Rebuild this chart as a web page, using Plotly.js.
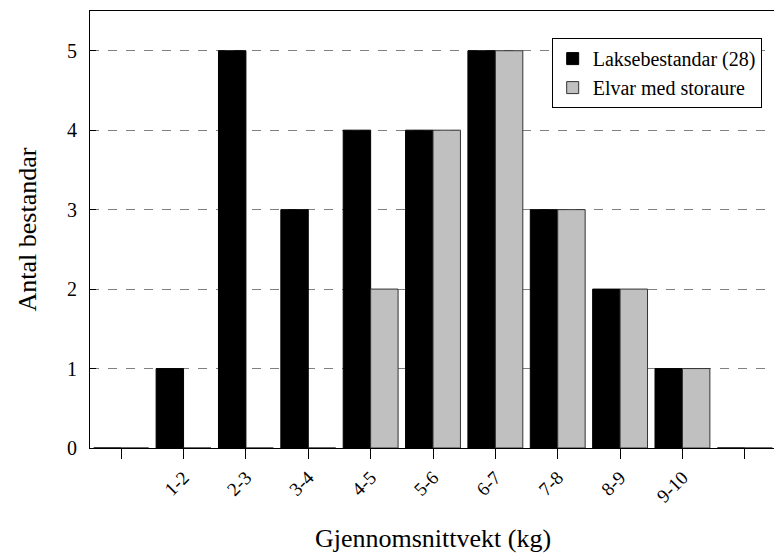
<!DOCTYPE html>
<html>
<head>
<meta charset="utf-8">
<script src="https://cdn.plot.ly/plotly-3.0.1.min.js"></script>
<style>html,body{margin:0;padding:0;overflow:hidden;background:#fff;}#chart{width:778px;height:553px;}</style>
</head>
<body>
<div id="chart"></div>
<script>
var categories = ["", "1-2", "2-3", "3-4", "4-5", "5-6", "6-7", "7-8", "8-9", "9-10", ""];
var laksebestandar = [0, 1, 5, 3, 4, 4, 5, 3, 2, 1, 0];
var storaure = [0, 0, 0, 0, 2, 4, 5, 3, 2, 1, 0];
var yTicks = [0, 1, 2, 3, 4, 5];

var xIdx = categories.map(function(c, i){ return i; });
var font = "Liberation Serif";

var traces = [
  {type: "bar", name: "Laksebestandar (28)", x: xIdx, y: laksebestandar,
   marker: {color: "#000000", line: {color: "#000000", width: 1}}},
  {type: "bar", name: "Elvar med storaure", x: xIdx, y: storaure,
   marker: {color: "#c0c0c0", line: {color: "#333333", width: 1}}}
];

var layout = {
  width: 778, height: 553,
  margin: {l: 90, r: 2, t: 11, b: 105},
  paper_bgcolor: "#ffffff", plot_bgcolor: "#ffffff",
  barmode: "group", bargap: 0.12, bargroupgap: 0,
  font: {family: font, color: "#000000", size: 19},
  showlegend: true,
  legend: {x: 0.673, y: 0.938, xanchor: "left", yanchor: "top",
           bgcolor: "#ffffff", bordercolor: "#000000", borderwidth: 1,
           font: {family: font, size: 20, color: "#000000"},
           itemwidth: 30, traceorder: "normal", tracegroupgap: 0},
  xaxis: {
    range: [-0.5, 10.5], tickmode: "array", tickvals: xIdx, ticktext: categories,
    tickangle: -45, ticks: "outside", ticklen: 10, tickcolor: "#000000",
    showline: true, linecolor: "#000000", linewidth: 1, mirror: true,
    showgrid: false, zeroline: false,
    tickfont: {family: font, size: 19},
    title: {text: "Gjennomsnittvekt (kg)", font: {family: font, size: 26}, standoff: 24}
  },
  yaxis: {
    range: [0, 5.5], tickmode: "array", tickvals: yTicks,
    ticks: "inside", ticklen: 6, tickcolor: "#000000", ticklabelstandoff: 8,
    showline: true, linecolor: "#000000", linewidth: 1, mirror: true,
    showgrid: true, gridcolor: "#808080", griddash: "dash", gridwidth: 1,
    zeroline: false,
    tickfont: {family: font, size: 20},
    title: {text: "Antal bestandar", font: {family: font, size: 26}, standoff: 22}
  }
};

Plotly.newPlot("chart", traces, layout, {displayModeBar: false, staticPlot: true});
</script>
</body>
</html>
